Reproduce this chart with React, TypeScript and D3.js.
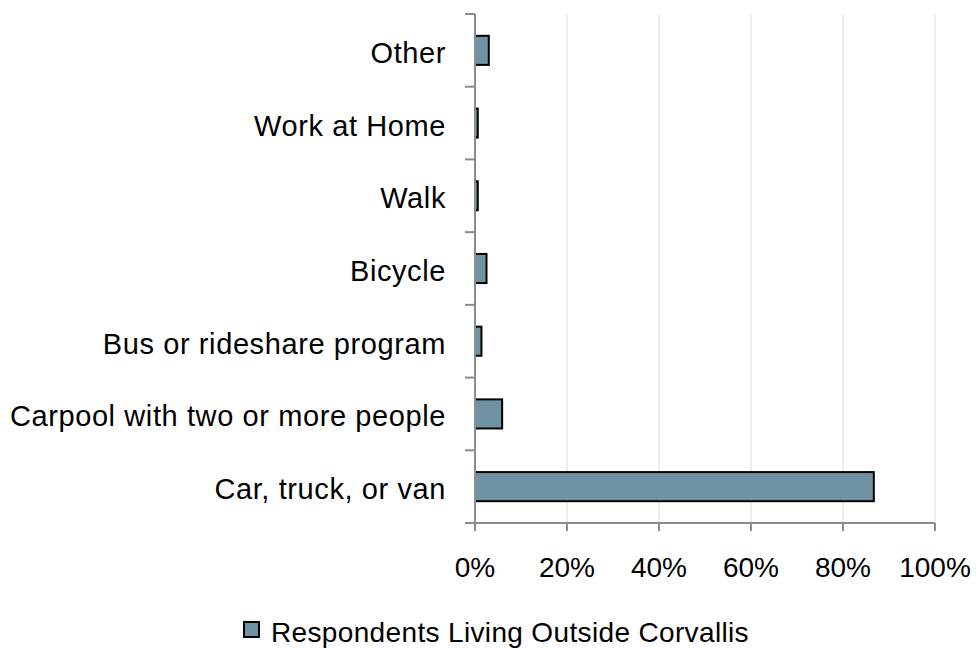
import React from "react";
import * as d3 from "d3";

const categories = [
  "Car, truck, or van",
  "Carpool with two or more people",
  "Bus or rideshare program",
  "Bicycle",
  "Walk",
  "Work at Home",
  "Other",
];
const values = [86.7, 5.9, 1.4, 2.5, 0.6, 0.6, 3.0];
const xTicks = [0, 20, 40, 60, 80, 100];
const seriesName = "Respondents Living Outside Corvallis";

const W = 976;
const H = 648;
const left = 475;
const right = 935;
const top = 14;
const bottom = 523;
const font = "Liberation Sans, Arial, sans-serif";

export default function App() {
  const x = d3.scaleLinear().domain([0, 100]).range([left, right]);
  const y = d3
    .scaleBand<string>()
    .domain([...categories].reverse())
    .range([top, bottom])
    .paddingInner(0.6)
    .paddingOuter(0.3);
  const step = (bottom - top) / categories.length;
  const boundaries = d3.range(categories.length + 1).map((i) => top + i * step);

  return (
    <svg
      width={W}
      height={H}
      style={{ position: "absolute", left: 0, top: 0, background: "#fff" }}
    >
      {xTicks.slice(1).map((t) => (
        <line key={"g" + t} x1={x(t)} x2={x(t)} y1={top} y2={bottom} stroke="#e8e8e8" strokeWidth={1.5} />
      ))}
      {values.map((v, i) => (
        <rect
          key={categories[i]}
          x={x(0)}
          y={y(categories[i])!}
          width={x(v) - x(0)}
          height={y.bandwidth()}
          fill="#6f93a3"
          stroke="#000"
          strokeWidth={2}
        />
      ))}
      <line x1={left} x2={left} y1={top} y2={bottom} stroke="#8c8c8c" strokeWidth={2} />
      <line x1={left - 10} x2={right} y1={bottom} y2={bottom} stroke="#8c8c8c" strokeWidth={2} />
      {boundaries.map((b, i) => (
        <line key={"t" + i} x1={left - 10} x2={left} y1={b} y2={b} stroke="#8c8c8c" strokeWidth={2} />
      ))}
      {xTicks.map((t) => (
        <line key={"xt" + t} x1={x(t)} x2={x(t)} y1={bottom} y2={bottom + 8} stroke="#8c8c8c" strokeWidth={2} />
      ))}
      {categories.map((c) => (
        <text
          key={"l" + c}
          x={446}
          y={y(c)! + y.bandwidth() / 2 + 12.5}
          textAnchor="end"
          fontFamily={font}
          fontSize={29}
          letterSpacing={0.6}
          fill="#000"
        >
          {c}
        </text>
      ))}
      {xTicks.map((t) => (
        <text
          key={"xl" + t}
          x={x(t)}
          y={577}
          textAnchor="middle"
          fontFamily={font}
          fontSize={28}
          fill="#000"
        >
          {t + "%"}
        </text>
      ))}
      <rect x={244} y={622} width={15} height={15} fill="#6f93a3" stroke="#000" strokeWidth={2} />
      <text x={271} y={641.5} fontFamily={font} fontSize={28} letterSpacing={0.35} fill="#000">
        {seriesName}
      </text>
    </svg>
  );
}
